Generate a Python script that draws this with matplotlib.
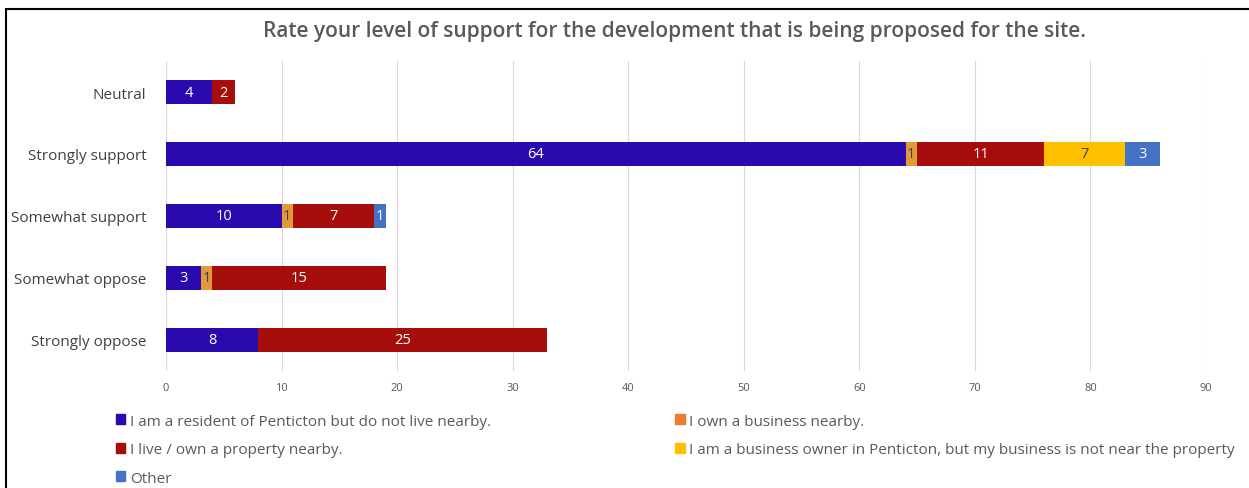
"""Stacked horizontal bar chart: level of support for the proposed development."""

import numpy as np
import matplotlib
matplotlib.use("Agg")
import matplotlib.pyplot as plt
from matplotlib.patches import Patch, Rectangle

plt.rcParams["font.family"] = ["Open Sans", "DejaVu Sans"]

# categories, top to bottom
categories = ["Neutral", "Strongly support", "Somewhat support", "Somewhat oppose", "Strongly oppose"]

series_names = [
    "I am a resident of Penticton but do not live nearby.",
    "I own a business nearby.",
    "I live / own a property nearby.",
    "I am a business owner in Penticton, but my business is not near the property",
    "Other",
]
resident = [4, 64, 10, 3, 8]
own_business = [0, 1, 1, 1, 0]
live_nearby = [2, 11, 7, 15, 25]
business_owner = [0, 7, 0, 0, 0]
other = [0, 3, 1, 0, 0]
series_values = [resident, own_business, live_nearby, business_owner, other]

bar_colors = ["#2A0AAE", "#E09A3C", "#A50E0B", "#FFC000", "#4472C4"]
legend_colors = ["#2A0AAE", "#ED7D31", "#A50E0B", "#FFC000", "#4472C4"]
label_colors = ["white", "#404040", "white", "#404040", "white"]

xticks = list(range(0, 100, 10))

fig = plt.figure(figsize=(12.49, 4.89), dpi=100)
ax = fig.add_axes([0.1329, 0.2393, 0.8327, 0.6339])

y = np.arange(len(categories))
left = np.zeros(len(categories))
for name, vals, col, lc in zip(series_names, series_values, bar_colors, label_colors):
    vals = np.array(vals, dtype=float)
    bars = ax.barh(y, vals, left=left, height=0.39, color=col, label=name)
    for b, v in zip(bars, vals):
        if v > 0:
            ax.text(b.get_x() + b.get_width() / 2, b.get_y() + b.get_height() / 2,
                    f"{int(v)}", ha="center", va="center", color=lc, fontsize=10.5)
    left += vals

ax.set_ylim(4.5, -0.5)
ax.set_xlim(0, 90)
ax.set_yticks(y)
ax.set_yticklabels(categories, fontsize=11, color="#404040")
ax.set_xticks(xticks)
ax.set_xticklabels([str(t) for t in xticks], fontsize=8, color="#595959")
ax.tick_params(axis="both", length=0)
ax.tick_params(axis="x", pad=8)
ax.tick_params(axis="y", pad=14)
for s in ax.spines.values():
    s.set_visible(False)
ax.grid(axis="x", color="#D9D9D9", linewidth=0.8)
ax.set_axisbelow(True)

fig.text(0.54, 0.935, "Rate your level of support for the development that is being proposed for the site.",
         ha="center", va="center", fontsize=15, color="#595959", fontweight="semibold")

# legend: column 1 = resident, live, other; column 2 = own business, business owner
order = [0, 2, 4, 1, 3]
handles = [Patch(color=legend_colors[i]) for i in order]
labels = [series_names[i] for i in order]
fig.legend(handles, labels, loc="upper left", bbox_to_anchor=(0.093, 0.152), ncol=2,
           frameon=False, fontsize=11, labelcolor="#595959", handlelength=0.6,
           handleheight=0.6, handletextpad=0.3, columnspacing=12.08, labelspacing=0.88,
           borderaxespad=0, borderpad=0)

# outer frame
fig.patches.append(Rectangle((0.005, -0.05), 1.2, 1.03, transform=fig.transFigure,
                             fill=False, edgecolor="black", linewidth=1.5))

fig.savefig("out.png", dpi=100)
